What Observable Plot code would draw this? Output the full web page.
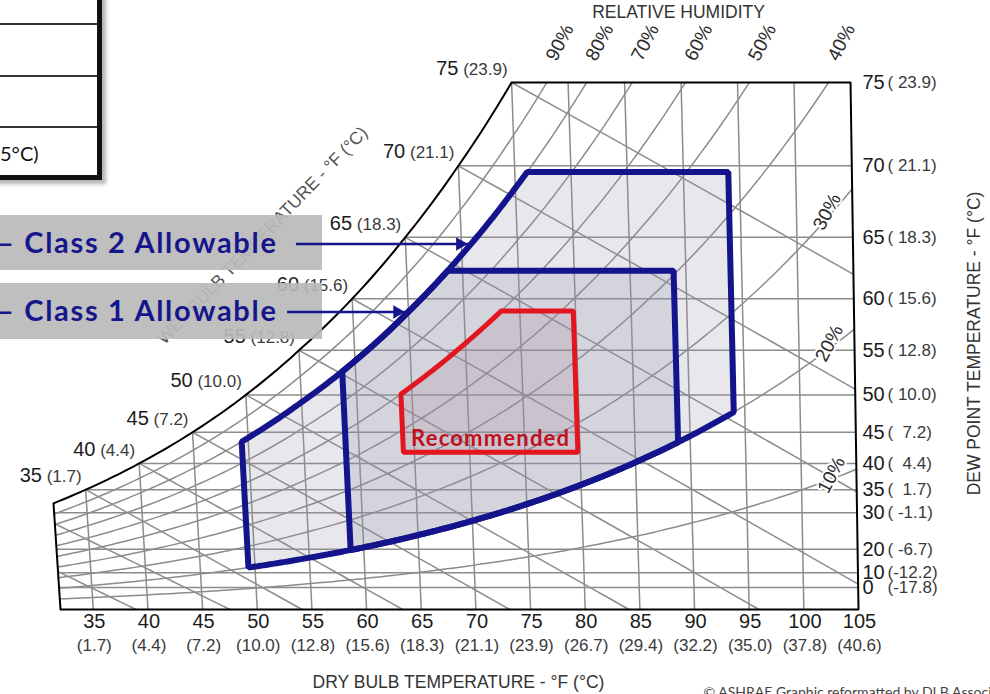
<!DOCTYPE html>
<html><head><meta charset="utf-8">
<script src="https://cdn.jsdelivr.net/npm/d3@7"></script>
<script src="https://cdn.jsdelivr.net/npm/@observablehq/plot@0.6"></script>
<style>
html,body{margin:0;padding:0;background:#fff;}
#wrap{position:relative;width:990px;height:694px;overflow:hidden;background:#fff;}
#chart,#over{position:absolute;left:0;top:0;}
#over{z-index:3;pointer-events:none;}
svg text{white-space:pre;}
.tbl{position:absolute;z-index:4;left:-20px;top:-20px;width:117px;height:195px;background:#fff;border-right:5px solid #111;border-bottom:5px solid #111;box-shadow:4px 4px 4px rgba(0,0,0,0.3);}
.rowline{position:absolute;z-index:5;left:0;width:97px;height:2px;background:#333;}
.tbltext{position:absolute;z-index:5;left:0;top:139px;font:20px Lato,"Open Sans",sans-serif;color:#111;line-height:28px;}
.box{position:absolute;z-index:2;left:0;width:322px;background:rgba(186,186,186,0.92);}
.box span{position:absolute;left:-3px;top:50%;transform:translateY(-54%);font:700 29px Lato,"Open Sans",sans-serif;letter-spacing:1.7px;color:#16168c;white-space:nowrap;}
</style></head>
<body>
<div id="wrap">
  <div id="chart"></div>
  <div class="box" style="top:215px;height:55px"><span>– Class 2 Allowable</span></div>
  <div class="box" style="top:283px;height:56px"><span>– Class 1 Allowable</span></div>
  <div id="over"></div>
  <div class="tbl"></div>
  <div class="rowline" style="top:23px"></div>
  <div class="rowline" style="top:75px"></div>
  <div class="rowline" style="top:126px"></div>
  <div class="tbltext">5°C)</div>
</div>
<script>
// ---------------- data ----------------
const dbTicks = [35,40,45,50,55,60,65,70,75,80,85,90,95,100,105];
const dbTicksC = ["(1.7)","(4.4)","(7.2)","(10.0)","(12.8)","(15.6)","(18.3)","(21.1)","(23.9)","(26.7)","(29.4)","(32.2)","(35.0)","(37.8)","(40.6)"];
const dpTicks = [0,10,20,30,35,40,45,50,55,60,65,70,75];
const dpTicksC = ["(-17.8)","(-12.2)","( -6.7)","( -1.1)","(  1.7)","(  4.4)","(  7.2)","( 10.0)","( 12.8)","( 15.6)","( 18.3)","( 21.1)","( 23.9)"];
// saturation humidity ratio table (lb/lb) vs temperature (°F)
const satT = [0,10,20,25,30,32,35,40,45,50,55,60,65,70,75,80,85,90,95,100,105];
const satW = [0.000787,0.001315,0.002152,0.002727,0.003454,0.003789,0.004275,0.005213,0.006324,0.007658,0.009249,0.011087,0.013280,0.015832,0.018804,0.022258,0.026274,0.030942,0.036366,0.042675,0.050021];
const rhLevels = [0.1,0.2,0.3,0.4,0.5,0.6,0.7,0.8,0.9];
const rhText = ["10%","20%","30%","40%","50%","60%","70%","80%","90%"];
const wbT = [25,30,35,40,45,50,55,60,65,70,75];
const wbZeroDb = [38.9,47.5,54.1,63.3,73.1,84.0,95.9,109.0,123.5,139.5,157.4];
const wbLabelT = [35,40,45,50,55,60,65,70,75];
const wbLabelC = ["(1.7)","(4.4)","(7.2)","(10.0)","(12.8)","(15.6)","(18.3)","(21.1)","(23.9)"];
const zoneNames = ["Class 2 Allowable","Class 1 Allowable","Recommended"];
const zoneDbMin = [49.4,58.8,64.0];
const zoneDbMax = [94.0,88.9,79.8];
const zoneRhMin = [0.2,0.2,null];
const zoneDpMin = [null,null,41.9];
const zoneRhMax = [0.8,0.8,0.6];
const zoneDpMax = [69.6,62.4,58.9];
const arrowDp = [64.5,58.8];
const arrowTailDb = [55.2,54.1];

// ---------------- helpers ----------------
const T_MIN = 32, T_MAX = 105, SH0 = 169, SH1 = 1.784;
function wsAt(T){
  let i = d3.bisectRight(satT, T) - 1;
  i = Math.max(0, Math.min(satT.length - 2, i));
  const f = (T - satT[i]) / (satT[i+1] - satT[i]);
  return Math.exp(Math.log(satW[i]) * (1 - f) + Math.log(satW[i+1]) * f);
}
const W_TOP = wsAt(75);
const cx = (T, W) => 32 + (T - 32) * (1 + SH1 * W) - SH0 * W; // chart projection (oblique dry-bulb lines)
function solve(f, a, b){ let fa = f(a); for (let k = 0; k < 60; k++){ const m = (a + b) / 2, fm = f(m); if ((fm > 0) === (fa > 0)) { a = m; fa = fm; } else b = m; } return (a + b) / 2; }
function clipSeg(p, q){
  let t0 = 0, t1 = 1; const dx = q[0]-p[0], dy = q[1]-p[1];
  const P = [-dx, dx, -dy, dy], Q = [p[0]-T_MIN, T_MAX-p[0], p[1], W_TOP-p[1]];
  for (let k = 0; k < 4; k++){
    if (P[k] === 0){ if (Q[k] < 0) return null; }
    else { const r = Q[k]/P[k]; if (P[k] < 0){ if (r > t1) return null; if (r > t0) t0 = r; } else { if (r < t0) return null; if (r < t1) t1 = r; } }
  }
  return [[p[0]+t0*dx, p[1]+t0*dy], [p[0]+t1*dx, p[1]+t1*dy], t1 < 1];
}
function clipPolyline(pts){
  const out = []; let cur = null;
  for (let i = 0; i < pts.length - 1; i++){
    const s = clipSeg(pts[i], pts[i+1]);
    if (!s){ cur = null; continue; }
    if (!cur){ cur = [s[0]]; out.push(cur); }
    cur.push(s[1]);
    if (s[2]) cur = null;
  }
  return out;
}
let gid = 0; const grid = [];
function addLine(pts){ for (const pl of clipPolyline(pts)){ const id = gid++; for (const [T, W] of pl) grid.push({x: cx(T, W), y: W, id}); } }
// dry-bulb lines
for (const T of dbTicks.slice(0, -1)) addLine([[T, 0], [T, Math.min(wsAt(T), W_TOP)]]);
// dew-point lines
for (const d of dpTicks.slice(0, -1)) { const W = wsAt(d); addLine([[Math.max(d, T_MIN), W], [T_MAX, W]]); }
// relative humidity curves
for (const p of rhLevels){ const pts = []; for (let T = T_MIN; T <= T_MAX + 1e-9; T += 0.5) pts.push([T, p * wsAt(T)]); addLine(pts); }
// wet-bulb lines
wbT.forEach((t, i) => { const a = [t, wsAt(t)], b = [wbZeroDb[i], 0], pts = []; for (let k = 0; k <= 20; k++) pts.push([a[0] + (b[0]-a[0])*k/20, a[1] + (b[1]-a[1])*k/20]); addLine(pts); });

// frame + saturation curve
const frame = [];
for (let T = T_MIN; T <= 75 + 1e-9; T += 0.5) frame.push({x: cx(T, wsAt(T)), y: wsAt(T)});
frame.push({x: cx(T_MAX, W_TOP), y: W_TOP}, {x: cx(T_MAX, 0), y: 0}, {x: cx(T_MIN, 0), y: 0});

// zones
function zoneOutline(i){
  const a = zoneDbMin[i], b = zoneDbMax[i], hi = zoneRhMax[i], top = wsAt(zoneDpMax[i]);
  const low = T => zoneRhMin[i] != null ? zoneRhMin[i] * wsAt(T) : wsAt(zoneDpMin[i]);
  const pts = [[a, low(a)]];
  const tc = solve(T => hi * wsAt(T) - top, a, b);
  for (let T = a; T < tc; T += 0.25) pts.push([T, hi * wsAt(T)]);
  pts.push([tc, top], [b, top]);
  for (let T = b; T > a; T -= 0.25) pts.push([T, low(T)]);
  return pts.map(([T, W]) => ({x: cx(T, W), y: W, zone: zoneNames[i], T, W}));
}
const zones = zoneNames.map((_, i) => zoneOutline(i));
const zoneFill = ["#9090a8","#9090a8","#a8889a"];
const zoneStroke = ["#14148c","#14148c","#e3161f"];
const zoneWidth = [6,6,5];

const wbLabels = wbLabelT.map((t, i) => ({x: cx(t, wsAt(t)), y: wsAt(t), text: t + " " + wbLabelC[i]}));
const rhTop = rhLevels.filter(p => p >= 0.4).map(p => { const T = solve(t => p * wsAt(t) - W_TOP, 60, 130); return {x: cx(T, W_TOP), y: W_TOP, text: rhText[rhLevels.indexOf(p)]}; });
const rhSide = rhLevels.filter(p => p <= 0.3).map(p => ({x: cx(103, p * wsAt(103)), y: p * wsAt(103), text: rhText[rhLevels.indexOf(p)]}));

const recMid = (zoneDbMin[2] + zoneDbMax[2]) / 2;

const FONT = '"Liberation Sans", Arial, sans-serif';
const common = {width: 990, height: 694, marginLeft: 60, marginRight: 132, marginTop: 82, marginBottom: 85,
  x: {domain: [T_MIN, T_MAX], axis: null}, y: {domain: [0, W_TOP], axis: null}};
const title = {textAnchor: "middle", lineAnchor: "middle", fontSize: 17.5, fill: "#333"};

const chart = Plot.plot({
  ...common,
  style: {fontFamily: FONT, background: "#fff"},
  marks: [
    Plot.line(grid, {x: "x", y: "y", z: "id", stroke: "#8c8c8c", strokeWidth: 1.5}),
    ...zones.map((z, i) => Plot.line(z, {x: "x", y: "y", fill: zoneFill[i], fillOpacity: 0.22, stroke: "none", curve: "linear-closed"})),
    Plot.line(frame, {x: "x", y: "y", stroke: "#000", strokeWidth: 2, curve: "linear-closed"}),
    ...zones.map((z, i) => Plot.line(z, {x: "x", y: "y", stroke: zoneStroke[i], strokeWidth: zoneWidth[i], strokeLinejoin: "miter", curve: "linear-closed"})),
    Plot.text(["Recommended"], {x: cx(recMid, wsAt(zoneDpMin[2])), y: wsAt(zoneDpMin[2]), dy: -13, fontSize: 22, fontWeight: "bold", fontFamily: "Lato", fill: "#c0101c", className: "rec"}),
    // bottom axis
    Plot.text(dbTicks, {x: d => d, frameAnchor: "bottom", dx: 1, dy: 18, text: d => String(d), fontSize: 20, fill: "#1c1c1c"}),
    Plot.text(dbTicks, {x: d => d, frameAnchor: "bottom", dx: 1, dy: 41, text: (d, i) => dbTicksC[i], fontSize: 17, fill: "#3a3a3a"}),
    // right axis
    Plot.text(dpTicks, {y: d => wsAt(d), frameAnchor: "right", dx: 4, textAnchor: "start", text: d => String(d), fontSize: 20, fill: "#1c1c1c"}),
    Plot.text(dpTicks, {y: d => wsAt(d), frameAnchor: "right", dx: 29, textAnchor: "start", text: (d, i) => dpTicksC[i], fontSize: 17, fill: "#3a3a3a"}),
    // wet-bulb labels
    Plot.text(wbLabels, {x: "x", y: "y", text: "text", textAnchor: "end", dx: -4, dy: -13, fontSize: 17, fill: "#3a3a3a"}),
    // RH labels
    Plot.text(rhTop, {x: "x", y: "y", text: "text", dx: 13, dy: -40, rotate: -62, fontSize: 19, fill: "#2a2a2a"}),
    Plot.text(rhSide, {x: "x", y: "y", text: "text", dx: -3, dy: -3, rotate: -62, fontSize: 19, fill: "#2a2a2a", stroke: "#fff", strokeWidth: 4}),
    // titles
    Plot.text(["RELATIVE HUMIDITY"], {...title, frameAnchor: "top-left", dx: 618, dy: -70}),
    Plot.text(["DRY BULB TEMPERATURE - °F (°C)"], {...title, frameAnchor: "bottom-left", dx: 398, dy: 73}),
    Plot.text(["DEW POINT TEMPERATURE - °F (°C)"], {...title, frameAnchor: "top-right", dx: 116, dy: 261, rotate: -90}),
    Plot.text(["WET BULB TEMPERATURE - °F (°C)"], {...title, fill: "#555", frameAnchor: "top-left", dx: 202, dy: 153, rotate: -46}),
    Plot.text(["© ASHRAE Graphic reformatted by DLB Associates"], {frameAnchor: "bottom-left", dx: 643, dy: 78, textAnchor: "start", lineAnchor: "top", fontSize: 14, fontFamily: "Lato", fill: "#444"})
  ]
});
document.getElementById("chart").appendChild(chart);
d3.select(chart).selectAll("text").filter(function(){ return this.textContent === "Recommended"; }).attr("letter-spacing", 1.2);
// two-size composite labels: "75 (23.9)"
d3.select(chart).selectAll("text").each(function(){
  const m = /^(\d+) (\(.*\))$/.exec(this.textContent);
  if (!m || this.querySelector("tspan")) return;
  this.textContent = "";
  const a = document.createElementNS("http://www.w3.org/2000/svg", "tspan"); a.textContent = m[1]; a.setAttribute("font-size", 20); a.setAttribute("fill", "#1c1c1c");
  const b = document.createElementNS("http://www.w3.org/2000/svg", "tspan"); b.textContent = " " + m[2];
  this.appendChild(a); this.appendChild(b);
});

// callout arrows (overlay above label boxes)
const arrows = arrowDp.map((dp, i) => { const W = wsAt(dp); const Ttip = solve(T => 0.8 * wsAt(T) - W, 40, 100); return {x1: cx(arrowTailDb[i], W), x2: cx(Ttip, W), y: W}; });
const over = Plot.plot({
  ...common,
  style: {fontFamily: FONT, background: "transparent"},
  marks: [
    Plot.link(arrows, {x1: "x1", x2: "x2", y1: "y", y2: "y", stroke: "#16168c", strokeWidth: 2.5}),
    Plot.dot(arrows, {x: "x2", y: "y", dx: -11, symbol: "triangle", rotate: 90, r: 5, fill: "#16168c", stroke: "none"})
  ]
});
document.getElementById("over").appendChild(over);
</script>
</body></html>
